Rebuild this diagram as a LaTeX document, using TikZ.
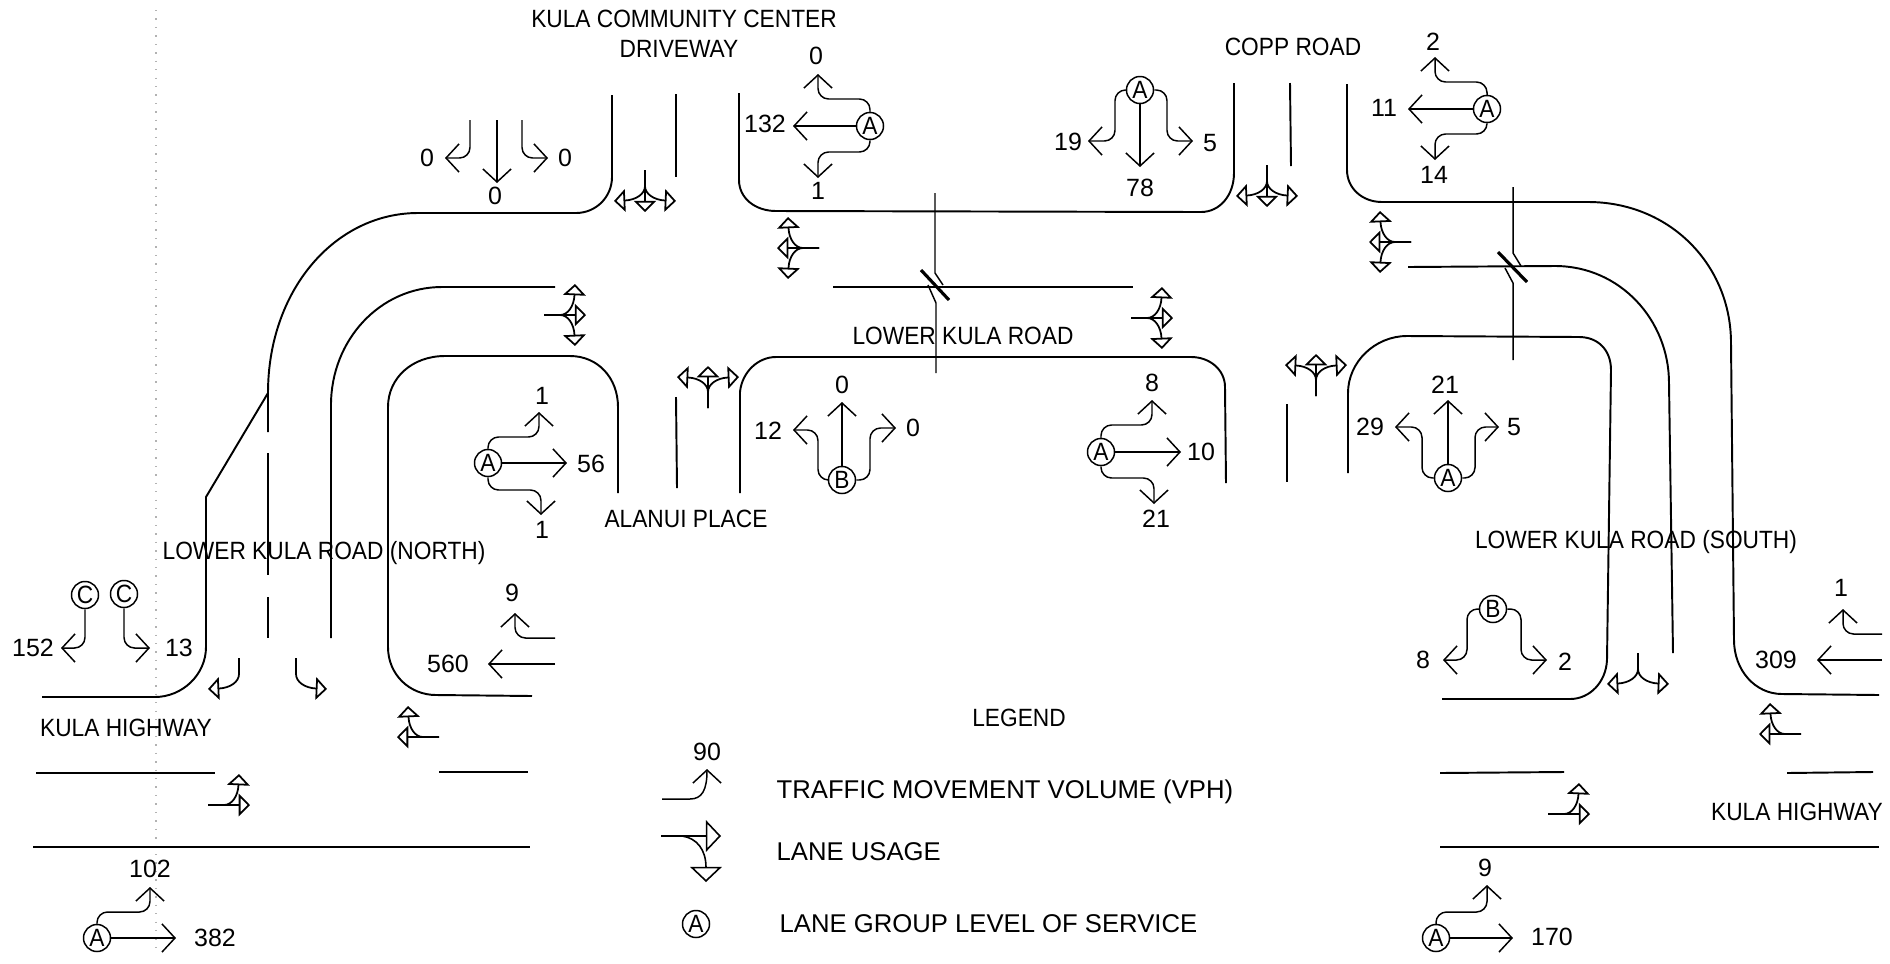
\documentclass[tikz,border=0pt]{standalone}
\usepackage{fontspec}
\setmainfont{Liberation Sans}
\newfontfamily\namefont[FakeStretch=0.91]{Liberation Sans}
\usetikzlibrary{arrows.meta}
\tikzset{
	road/.style={line width=0.55pt},
	mv/.style={->,line width=0.42pt,rounded corners=3pt},
	los/.style={circle,draw,line width=0.42pt,minimum size=0.27cm,inner sep=0pt,font=\namefont\fontsize{7.1}{8}\selectfont},
	vol/.style={inner sep=0pt,font=\fontsize{7.1}{8}\selectfont},
	lbl/.style={inner sep=0pt,font=\namefont\fontsize{7.1}{8}\selectfont},
	leg/.style={inner sep=0pt,anchor=west,font=\fontsize{7.3}{8}\selectfont},
	lane/.tip={Triangle[open,length=3.2pt,width=6.4pt]},
	bigtip/.tip={Triangle[open,length=4.3pt,width=9pt]},
	laneT/.pic={\draw[-lane,line width=0.5pt] (0,0) -- (0,42);},
	laneA/.pic={\draw[-lane,line width=0.5pt] (0,0) -- (0,16) .. controls (0,24) and (9,30) .. (31,31);},
	laneB/.pic={\draw[-lane,line width=0.5pt] (0,0) -- (0,16) .. controls (0,24) and (-9,30) .. (-31,31);},
}
\begin{document}
\begin{tikzpicture}[x=0.01cm,y=-0.01cm,>={Straight Barb[length=3.7pt,width=8pt]}]
	\useasboundingbox (0,0) rectangle (1890,963);
	\draw[dotted,black!30] (156,10) -- (156,950);

	% roads, north side
	\draw[road] (612,95) -- (612,177) .. controls (612,197) and (596,213) .. (576,213) -- (418,213) .. controls (335,213) and (268,290) .. (268,393) -- (268,432);
	\draw[road] (268,453) -- (268,575);
	\draw[road] (268,597) -- (268,638);
	\draw[road] (268,393) -- (206,497) -- (206,647) .. controls (206,675) and (182,697) .. (155,697) -- (42,697);
	\draw[road] (555,287) -- (442,287) .. controls (380,287) and (331,340) .. (331,405) -- (331,638);
	\draw[road] (618,493) -- (618,407) .. controls (618,378) and (598,356) .. (570,356) -- (445,356) .. controls (412,356) and (388,378) .. (388,407) -- (388,647) .. controls (388,675) and (410,695) .. (436,695) -- (532,696);
	\draw[road] (676,94) -- (676,177);
	\draw[road] (739,93) -- (739,180) .. controls (739,198) and (755,211) .. (776,211) -- (1201,212) .. controls (1220,212) and (1234,195) .. (1234,173) -- (1234,83);
	\draw[road] (1290,83) -- (1291,166);
	\draw[road] (1347,84) -- (1347,170) .. controls (1347,188) and (1362,202) .. (1382,202) -- (1588,202) .. controls (1670,202) and (1731,265) .. (1731,343) -- (1734,640) .. controls (1734,670) and (1755,694) .. (1782,694) -- (1879,695);
	\draw[road] (1408,267) -- (1555,266) .. controls (1620,266) and (1669,320) .. (1669,383) -- (1673,653);
	\draw[road] (1348,473) -- (1348,393) .. controls (1348,362) and (1375,336) .. (1407,336) -- (1579,337) .. controls (1598,337) and (1611,350) .. (1611,370) -- (1607,660) .. controls (1606,682) and (1590,699) .. (1570,699) -- (1442,699);

	% roads, middle and south side
	\draw[road] (740,493) -- (740,392) .. controls (742,372) and (758,357) .. (776,357) -- (1191,357) .. controls (1210,357) and (1225,370) .. (1225,387) -- (1226,483);
	\draw[road] (676,397) -- (677,488);
	\draw[road] (1287,404) -- (1287,482);
	\draw[road] (833,287) -- (1133,287);
	\draw[road] (36,773) -- (215,773);
	\draw[road] (439,772) -- (528,772);
	\draw[road] (33,847) -- (530,847);
	\draw[road] (1440,773) -- (1564,772);
	\draw[road] (1787,773) -- (1873,772);
	\draw[road] (1440,847) -- (1879,847);

	% section breaks
	\draw[line width=0.42pt] (935,193) -- (935,273) -- (943,285);
	\draw[line width=0.42pt] (928,285) -- (936,303) -- (936,373);
	\draw[line width=0.9pt] (921,270) -- (949,300);
	\draw[line width=0.42pt] (1513,187) -- (1513,253) -- (1521,266);
	\draw[line width=0.42pt] (1505,268) -- (1513,283) -- (1513,360);
	\draw[line width=0.9pt] (1498,252) -- (1527,282);

	% lane usage
	\foreach \X/\Y/\R in {645/170/0,819/248/-90,544/315/90,708/408/180,1267/165/0,1411/242/-90,1131/318/90,1316/396/180} {
		\pic[rotate=\R] at (\X,\Y) {laneT};
		\pic[rotate=\R] at (\X,\Y) {laneA};
		\pic[rotate=\R] at (\X,\Y) {laneB};}
	\foreach \X/\Y in {439/737,1801/734} {
		\pic[rotate=-90] at (\X,\Y) {laneT};
		\pic[rotate=-90] at (\X,\Y) {laneB};}
	\foreach \X/\Y in {208/805,1548/814} {
		\pic[rotate=90] at (\X,\Y) {laneT};
		\pic[rotate=90] at (\X,\Y) {laneA};}
	\pic at (239,658) {laneB};
	\pic at (296,658) {laneA};
	\pic at (1638,653) {laneA};
	\pic at (1638,653) {laneB};

	% level of service circles
	\node[los] (losDriveWB) at (870,126) {A};
	\node[los] (losCoppWB) at (1487,109) {A};
	\node[los] (losCoppSB) at (1140,90) {A};
	\node[los] (losAlanuiNB) at (842,480) {B};
	\node[los] (losDriveEB) at (488,463) {A};
	\node[los] (losCoppEB) at (1101,452) {A};
	\node[los] (losCoppNB) at (1448,478) {A};
	\node[los] (losNorthL) at (85,595) {C};
	\node[los] (losNorthR) at (124,594) {C};
	\node[los] (losHwyWest) at (97,938) {A};
	\node[los] (losHwyEast) at (1436,938) {A};
	\node[los] (losSouth) at (1493,609) {B};
	\node[los] (losLegend) at (696,924) {A};

	% movements
	\draw[mv] (losDriveWB.north) |- (818,99) -- (818,74);
	\draw[mv] (losDriveWB) -- (793,126);
	\draw[mv] (losDriveWB.south) |- (818,152) -- (818,178);
	\draw[mv] (losCoppWB.north) |- (1435,82) -- (1435,57);
	\draw[mv] (losCoppWB) -- (1408,109);
	\draw[mv] (losCoppWB.south) |- (1435,134) -- (1435,160);
	\draw[mv] (losCoppSB.west) -| (1115,141) -- (1088,141);
	\draw[mv] (losCoppSB) -- (1140,167);
	\draw[mv] (losCoppSB.east) -| (1167,141) -- (1193,141);
	\draw[mv] (losAlanuiNB.west) -| (818,430) -- (793,430);
	\draw[mv] (losAlanuiNB) -- (842,402);
	\draw[mv] (losAlanuiNB.east) -| (870,428) -- (896,428);
	\draw[mv] (losDriveEB.north) |- (539,437) -- (539,412);
	\draw[mv] (losDriveEB) -- (567,463);
	\draw[mv] (losDriveEB.south) |- (541,490) -- (541,515);
	\draw[mv] (losCoppEB.north) |- (1152,425) -- (1152,400);
	\draw[mv] (losCoppEB) -- (1181,452);
	\draw[mv] (losCoppEB.south) |- (1154,478) -- (1154,504);
	\draw[mv] (losCoppNB.west) -| (1422,427) -- (1395,427);
	\draw[mv] (losCoppNB) -- (1448,400);
	\draw[mv] (losCoppNB.east) -| (1475,427) -- (1499,427);
	\draw[mv] (losNorthL) |- (61,648);
	\draw[mv] (losNorthR) |- (150,648);
	\draw[mv] (losHwyWest.north) |- (150,912) -- (150,887);
	\draw[mv] (losHwyWest) -- (176,938);
	\draw[mv] (losHwyEast.north) |- (1487,912) -- (1487,885);
	\draw[mv] (losHwyEast) -- (1513,938);
	\draw[mv] (losSouth.west) -| (1467,660) -- (1443,660);
	\draw[mv] (losSouth.east) -| (1521,660) -- (1547,660);
	% movements with no circle
	\draw[mv] (470,120) -- (470,158) -- (445,158);
	\draw[mv] (497,120) -- (497,183);
	\draw[mv] (522,120) -- (522,158) -- (548,158);
	\draw[mv] (555,638) -- (515,638) -- (515,613);
	\draw[mv] (555,664) -- (488,664);
	\draw[mv] (1882,634) -- (1843,634) -- (1843,609);
	\draw[mv] (1882,660) -- (1817,660);

	% volumes
	\foreach \X/\Y/\T [count=\N] in {427/158/0,495/196/0,565/158/0,816/56/0,765/124/132,818/191/1,
		1433/42/2,1384/108/11,1434/175/14,1068/142/19,1140/188/78,1210/143/5,
		768/431/12,842/385/0,913/428/0,542/396/1,591/464/56,542/530/1,
		1152/383/8,1201/452/10,1156/519/21,1370/427/29,1445/385/21,1514/427/5,
		33/648/152,179/648/13,512/593/9,448/664/560,150/869/102,215/938/382,
		1485/868/9,1552/937/170,1841/588/1,1776/660/309,1423/660/8,1565/662/2} {
		\node[vol] (vol\N) at (\X,\Y) {\T};}

	% road names
	\node[lbl] (nameCenter) at (684,19) {KULA COMMUNITY CENTER};
	\node[lbl] (nameDrive) at (679,49) {DRIVEWAY};
	\node[lbl] (nameCopp) at (1293,47) {COPP ROAD};
	\node[lbl] (nameLower) at (963,336) {LOWER KULA ROAD};
	\node[lbl] (nameAlanui) at (686,519) {ALANUI PLACE};
	\node[lbl] (nameNorth) at (324,553) {LOWER KULA ROAD (NORTH)};
	\node[lbl] (nameSouth) at (1636,542) {LOWER KULA ROAD (SOUTH)};
	\node[lbl] (nameHwyWest) at (126,728) {KULA HIGHWAY};
	\node[lbl] (nameHwyEast) at (1797,812) {KULA HIGHWAY};

	% legend
	\node[lbl] (legendTitle) at (1019,718) {LEGEND};
	\node[vol] (legend90) at (707,752) {90};
	\draw[->,line width=0.42pt] (662,799) -- (690,799) .. controls (702,799) and (707,790) .. (707,769);
	\node[leg] (legendVol) at (776,792) {TRAFFIC MOVEMENT VOLUME (VPH)};
	\draw[-bigtip,line width=0.45pt] (661,836) -- (721,836);
	\draw[-bigtip,line width=0.45pt] (661,836) -- (682,836) .. controls (697,838) and (706,850) .. (706,882);
	\node[leg] (legendLane) at (776,852) {LANE USAGE};
	\node[leg] (legendLos) at (779,924) {LANE GROUP LEVEL OF SERVICE};
\end{tikzpicture}
\end{document}
